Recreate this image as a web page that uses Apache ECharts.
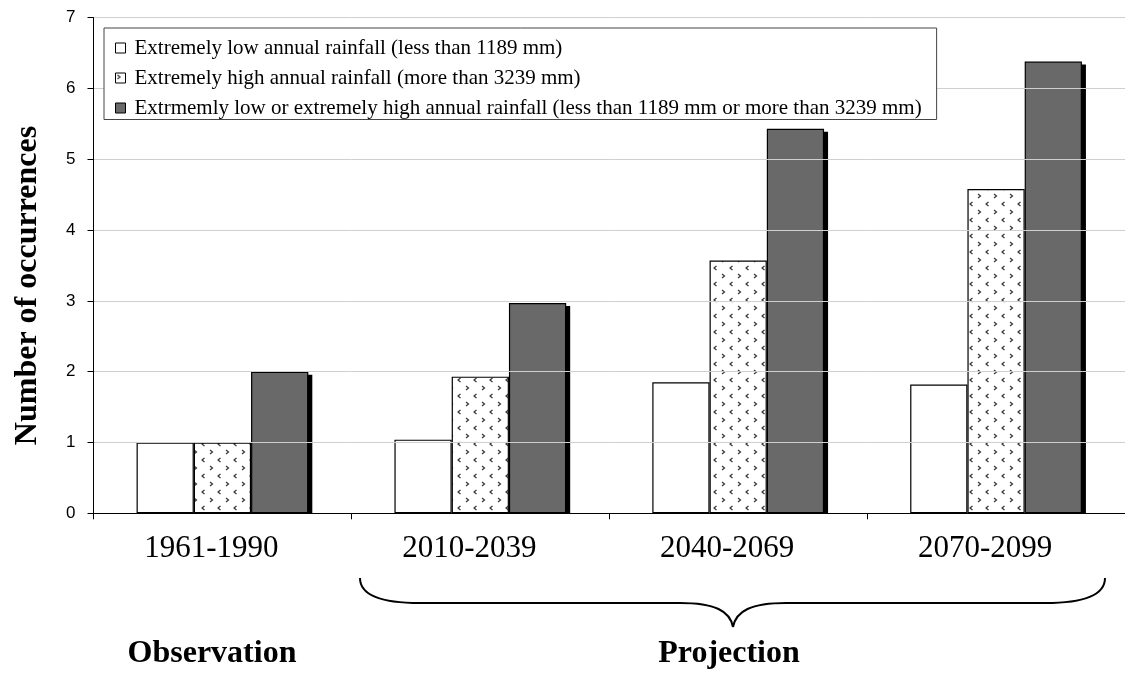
<!DOCTYPE html>
<html>
<head>
<meta charset="utf-8">
<script src="https://cdn.jsdelivr.net/npm/echarts@6/dist/echarts.min.js"></script>
<style>
  html, body { margin: 0; padding: 0; background: #fff; }
  #chart { width: 1125px; height: 673px; }
</style>
</head>
<body>
<div id="chart"></div>
<script>
// Periods on the x axis
const categories = ['1961-1990', '2010-2039', '2040-2069', '2070-2099'];

// Mean number of occurrences per 30-year period
const lowRainfall = [1.0, 1.04, 1.85, 1.82];
const highRainfall = [1.0, 1.93, 3.57, 4.58];
const eitherRainfall = [2.0, 2.97, 5.43, 6.38];

const seriesNames = [
  'Extremely low annual rainfall (less than 1189 mm)',
  'Extremely high annual rainfall (more than 3239 mm)',
  'Extrmemly low or extremely high annual rainfall (less than 1189 mm or more than 3239 mm)'
];

const yTicks = { min: 0, max: 7, interval: 1 };

// Small chevron fill used for the "high rainfall" bars
function chevronPattern() {
  const c = document.createElement('canvas');
  c.width = 16; c.height = 16;
  const g = c.getContext('2d');
  g.fillStyle = '#fff';
  g.fillRect(0, 0, 16, 16);
  g.strokeStyle = '#333';
  g.lineWidth = 1.2;
  g.beginPath();
  // ">" mark
  g.moveTo(2, 2); g.lineTo(4.5, 4); g.lineTo(2, 6);
  // "<" mark, offset half a cell
  g.moveTo(12.5, 10); g.lineTo(10, 12); g.lineTo(12.5, 14);
  g.stroke();
  return c;
}

const serif = '"Liberation Serif", "Times New Roman", serif';
const sans = '"Liberation Sans", Arial, sans-serif';

const barPct = 0.222;          // bar width as a share of the category band
const shadowDx = 4, shadowDy = 3;

// Curly brace grouping the projection periods
const braceStyle = { stroke: '#000', lineWidth: 2, fill: null };
const braceParts = [
  { type: 'bezierCurve', shape: { x1: 360, y1: 578, cpx1: 360, cpy1: 595, cpx2: 380, cpy2: 603, x2: 420, y2: 603 } },
  { type: 'line', shape: { x1: 420, y1: 603, x2: 680, y2: 603 } },
  { type: 'bezierCurve', shape: { x1: 680, y1: 603, cpx1: 715, cpy1: 603, cpx2: 730, cpy2: 611, x2: 733, y2: 627 } },
  { type: 'bezierCurve', shape: { x1: 733, y1: 627, cpx1: 736, cpy1: 611, cpx2: 751, cpy2: 603, x2: 786, y2: 603 } },
  { type: 'line', shape: { x1: 786, y1: 603, x2: 1045, y2: 603 } },
  { type: 'bezierCurve', shape: { x1: 1045, y1: 603, cpx1: 1085, cpy1: 603, cpx2: 1105, cpy2: 595, x2: 1105, y2: 578 } }
].map(p => Object.assign(p, { style: braceStyle, silent: true }));

// Drop shadow for the third (dark) bar of each group, placed from the axis scales
function renderShadow(params, api) {
  const i = api.value(0);
  const base = api.coord([i, 0]);
  const top = api.coord([i, api.value(1)]);
  const bw = api.size([1, 0])[0] * barPct;
  const x = base[0] + bw / 2 + shadowDx;
  const y = top[1] + shadowDy;
  return {
    type: 'rect',
    shape: { x: x, y: y, width: bw, height: base[1] - y },
    style: { fill: '#000' }
  };
}

const chart = echarts.init(document.getElementById('chart'), null, { renderer: 'canvas' });

const barBase = { type: 'bar', barWidth: (barPct * 100) + '%', barGap: '0%', z: 2 };

chart.setOption({
  animation: false,
  backgroundColor: '#fff',
  grid: { left: 93.5, top: 17.7, width: 1034, height: 495.6 },
  legend: {
    orient: 'vertical',
    left: 104, top: 28,
    backgroundColor: '#fff',
    borderColor: '#444',
    borderWidth: 1,
    borderRadius: 0,
    padding: [9.5, 15, 1, 11],
    icon: 'rect',
    itemWidth: 10, itemHeight: 10,
    itemGap: 9,
    textStyle: { fontFamily: serif, fontSize: 21, color: '#000', lineHeight: 21, padding: [0, 0, 0, 4] },
    itemStyle: { borderColor: '#000', borderWidth: 1 },
    data: seriesNames
  },
  xAxis: {
    type: 'category',
    data: categories,
    axisLine: { lineStyle: { color: '#000', width: 1 } },
    axisTick: { show: true, length: 6, lineStyle: { color: '#000' } },
    axisLabel: {
      fontFamily: serif, fontSize: 31, color: '#000', margin: 20,
      padding: [0, 22, 0, 0]
    },
    splitLine: { show: false },
    z: 3
  },
  yAxis: {
    type: 'value',
    min: yTicks.min, max: yTicks.max, interval: yTicks.interval,
    name: 'Number of occurrences',
    nameLocation: 'middle',
    nameRotate: 90,
    nameGap: 50,
    nameTextStyle: {
      fontFamily: serif, fontSize: 32, fontWeight: 'bold', color: '#000',
      padding: [0, 40, 0, 0]
    },
    axisLine: { show: true, lineStyle: { color: '#000', width: 1 } },
    axisTick: { show: true, length: 6, lineStyle: { color: '#000' } },
    axisLabel: { fontFamily: sans, fontSize: 17, color: '#000', margin: 18 },
    splitLine: { show: true, lineStyle: { color: '#cfcfcf', width: 1 } },
    z: 3
  },
  series: [
    Object.assign({}, barBase, {
      name: seriesNames[0],
      data: lowRainfall,
      itemStyle: { color: '#fff', borderColor: '#000', borderWidth: 1.2 }
    }),
    Object.assign({}, barBase, {
      name: seriesNames[1],
      data: highRainfall,
      itemStyle: { color: { image: chevronPattern(), repeat: 'repeat' }, borderColor: '#000', borderWidth: 1.2 }
    }),
    Object.assign({}, barBase, {
      name: seriesNames[2],
      data: eitherRainfall,
      itemStyle: { color: '#696969', borderColor: '#000', borderWidth: 1.2 }
    }),
    {
      type: 'custom',
      z: 1,
      silent: true,
      renderItem: renderShadow,
      encode: { x: 0, y: 1 },
      data: eitherRainfall.map((v, i) => [i, v])
    }
  ],
  graphic: braceParts.concat([
    {
      type: 'text',
      style: {
        text: 'Observation', x: 212, y: 654, textAlign: 'center', textVerticalAlign: 'middle',
        font: 'bold 32px ' + serif, fill: '#000'
      }
    },
    {
      type: 'text',
      style: {
        text: 'Projection', x: 729, y: 654, textAlign: 'center', textVerticalAlign: 'middle',
        font: 'bold 32px ' + serif, fill: '#000'
      }
    }
  ])
});
</script>
</body>
</html>
